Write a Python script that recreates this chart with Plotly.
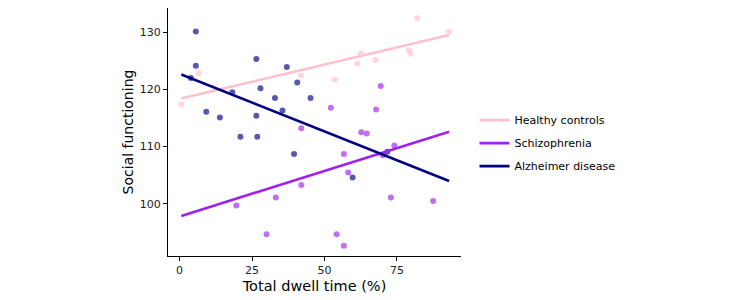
import plotly.graph_objects as go

# ---- data ----
hc_x = [0.6, 6.6, 41.9, 53.6, 61.3, 62.6, 67.6, 79.1, 79.8, 82.0, 93.0]
hc_y = [117.4, 122.8, 122.4, 121.7, 124.5, 126.3, 125.1, 126.8, 126.2, 132.4, 130.1]

sz_x = [19.6, 30.0, 33.2, 42.0, 42.0, 52.2, 54.2, 56.7, 56.7, 58.2, 62.7, 64.6,
        67.8, 69.4, 70.1, 72.9, 74.1, 87.5]
sz_y = [99.7, 94.7, 101.1, 103.3, 113.2, 116.8, 94.7, 92.7, 108.7, 105.5, 112.5, 112.3,
        116.5, 120.6, 108.5, 101.1, 110.2, 100.5]

ad_x = [3.9, 5.6, 5.6, 9.2, 13.9, 18.2, 21.0, 26.5, 26.5, 26.8, 27.9, 32.9, 35.5,
        37.0, 39.5, 40.6, 45.2, 59.7, 71.7]
ad_y = [122.0, 130.1, 124.1, 116.1, 115.1, 119.5, 111.7, 125.3, 115.4, 111.7, 120.2, 118.5, 116.3,
        123.9, 108.7, 121.2, 118.5, 104.6, 109.1]

# fitted regression lines (endpoints)
fit_x = [0.6, 93.0]
hc_fit = [118.4, 129.5]
sz_fit = [97.9, 112.6]
ad_fit = [122.6, 104.0]

groups = ["Healthy controls", "Schizophrenia", "Alzheimer disease"]
colors = ["#FFC0CB", "#A020F0", "#000080"]

x_ticks = [0, 25, 50, 75]
y_ticks = [100, 110, 120, 130]

fig = go.Figure()

pts = [(hc_x, hc_y), (sz_x, sz_y), (ad_x, ad_y)]
fits = [hc_fit, sz_fit, ad_fit]

for (xs, ys), name, col in zip(pts, groups, colors):
    fig.add_trace(go.Scatter(
        x=xs, y=ys, mode="markers", name=name, legendgroup=name, showlegend=False,
        marker=dict(color=col, size=6, opacity=0.65, line=dict(width=0)),
        hoverinfo="skip"))

for f, name, col in zip(fits, groups, colors):
    fig.add_trace(go.Scatter(
        x=fit_x, y=f, mode="lines", name=name, legendgroup=name,
        line=dict(color=col, width=2.6)))

fig.update_layout(
    width=742, height=292,
    margin=dict(l=160, r=289, t=0, b=44),
    paper_bgcolor="white", plot_bgcolor="white",
    font=dict(family="DejaVu Sans", size=11, color="#000"),
    legend=dict(x=1.046, xanchor="left", y=0.455, yanchor="middle",
                font=dict(size=11, color="#000"),
                bgcolor="rgba(0,0,0,0)", itemwidth=30,
                traceorder="grouped", tracegroupgap=4),
    showlegend=True,
)

fig.update_xaxes(
    range=[-4.0, 97.1], tickvals=x_ticks, ticktext=[str(v) for v in x_ticks],
    showgrid=False, zeroline=False, showline=True, linecolor="black", linewidth=1,
    ticks="outside", ticklen=4, tickcolor="black", tickfont=dict(size=11, color="#222"),
    title=dict(text="Total dwell time (%)", font=dict(size=14.5, color="#000"), standoff=4),
)
fig.update_yaxes(
    range=[90.9, 134.2], tickvals=y_ticks, ticktext=[str(v) for v in y_ticks],
    showgrid=False, zeroline=False, showline=True, linecolor="black", linewidth=1,
    ticks="outside", ticklen=4, tickcolor="black", tickfont=dict(size=11, color="#222"),
    title=dict(text="Social functioning", font=dict(size=14, color="#000"), standoff=2),
)

fig.write_html("out.html")
